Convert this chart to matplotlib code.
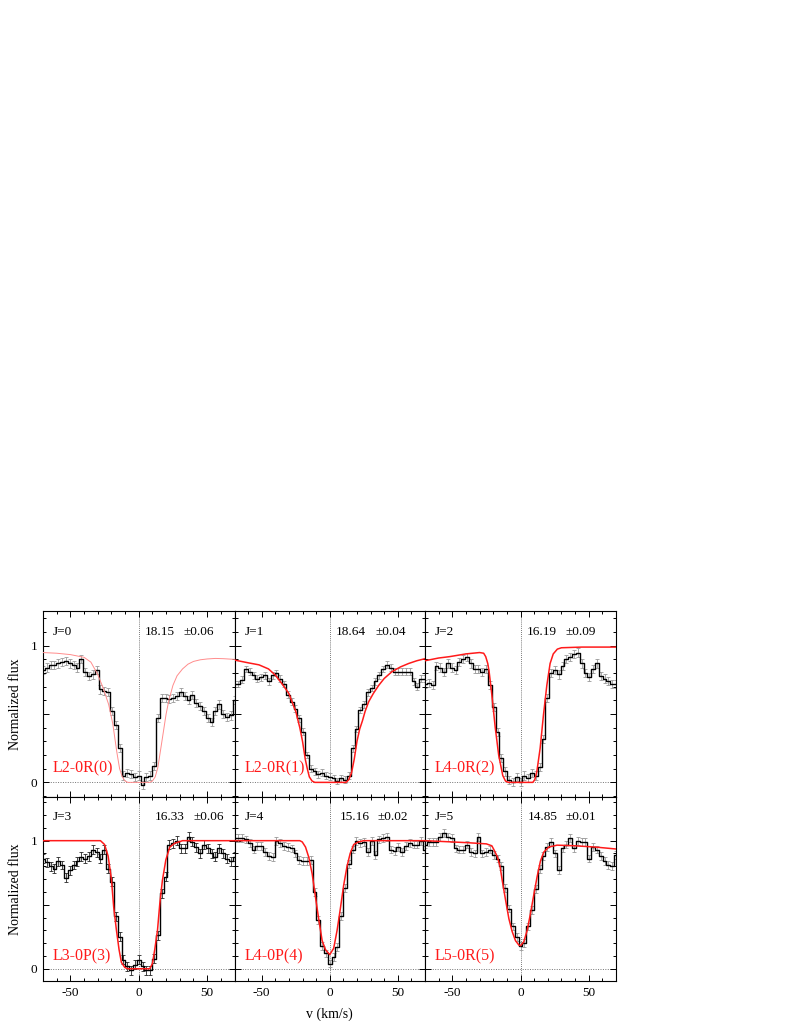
import matplotlib
matplotlib.use("Agg")
import matplotlib.pyplot as plt
from matplotlib.ticker import MultipleLocator, FixedLocator, FixedFormatter

plt.rcParams['font.family'] = ['Liberation Serif', 'DejaVu Serif']
plt.rcParams['axes.unicode_minus'] = False

# ---------------- data ----------------
velocity = [-70.0, -67.2, -64.4, -61.6, -58.8, -56.0, -53.2, -50.4, -47.6, -44.8,
            -42.0, -39.2, -36.4, -33.6, -30.8, -28.0, -25.2, -22.4, -19.6, -16.8,
            -14.0, -11.2, -8.4, -5.6, -2.8, 0.0, 2.8, 5.6, 8.4, 11.2,
            14.0, 16.8, 19.6, 22.4, 25.2, 28.0, 30.8, 33.6, 36.4, 39.2,
            42.0, 44.8, 47.6, 50.4, 53.2, 56.0, 58.8, 61.6, 64.4, 67.2, 70.0]

flux_J0 = [0.82, 0.84, 0.86, 0.86, 0.87, 0.88, 0.89, 0.87, 0.86, 0.84,
           0.90, 0.81, 0.78, 0.79, 0.82, 0.68, 0.67, 0.66, 0.52, 0.42,
           0.25, 0.05, 0.07, 0.06, 0.04, 0.05, -0.02, 0.04, 0.05, 0.12,
           0.47, 0.62, 0.62, 0.61, 0.62, 0.63, 0.66, 0.63, 0.60, 0.64,
           0.58, 0.56, 0.52, 0.47, 0.44, 0.52, 0.57, 0.50, 0.48, 0.49, 0.60]
flux_J1 = [0.72, 0.72, 0.75, 0.83, 0.81, 0.785, 0.76, 0.77, 0.785, 0.74,
           0.785, 0.80, 0.76, 0.72, 0.64, 0.59, 0.54, 0.47, 0.37, 0.20,
           0.10, 0.08, 0.06, 0.07, 0.05, 0.04, 0.03, 0.01, 0.03, 0.02,
           0.05, 0.25, 0.39, 0.53, 0.57, 0.66, 0.69, 0.74, 0.785, 0.83,
           0.86, 0.84, 0.81, 0.81, 0.81, 0.81, 0.81, 0.74, 0.70, 0.76, 0.76]
flux_J2 = [0.72, 0.73, 0.71, 0.85, 0.84, 0.81, 0.87, 0.84, 0.82, 0.88,
           0.90, 0.92, 0.87, 0.83, 0.83, 0.81, 0.83, 0.71, 0.55, 0.37,
           0.18, 0.08, 0.02, 0.00, 0.04, 0.00, 0.05, 0.03, 0.07, 0.05,
           0.11, 0.32, 0.62, 0.80, 0.82, 0.79, 0.85, 0.90, 0.92, 0.94,
           0.95, 0.87, 0.80, 0.77, 0.83, 0.87, 0.78, 0.76, 0.74, 0.72, 0.72]
flux_J3 = [0.86, 0.83, 0.80, 0.78, 0.84, 0.81, 0.71, 0.77, 0.81, 0.84,
           0.875, 0.86, 0.88, 0.93, 0.91, 0.86, 0.93, 0.78, 0.68, 0.41,
           0.25, 0.07, 0.02, -0.01, 0.03, 0.07, 0.02, -0.01, -0.01, 0.08,
           0.26, 0.59, 0.72, 0.97, 0.98, 1.00, 0.94, 0.94, 1.03, 0.99,
           0.95, 0.90, 0.97, 0.94, 0.90, 0.875, 0.94, 0.90, 0.86, 0.84, 0.875]
flux_J4 = [1.02, 1.02, 1.02, 1.01, 0.98, 0.93, 0.96, 0.96, 0.91, 0.88,
           0.87, 1.00, 0.98, 0.96, 0.95, 0.94, 0.90, 0.85, 0.84, 0.84,
           0.85, 0.60, 0.38, 0.18, 0.12, 0.04, 0.09, 0.17, 0.41, 0.63,
           0.82, 0.93, 1.00, 0.98, 0.99, 0.91, 1.00, 0.89, 1.01, 1.02,
           1.03, 0.93, 0.92, 0.95, 0.91, 0.96, 0.98, 0.97, 0.97, 1.00, 0.93]
flux_J5 = [0.97, 0.99, 0.99, 0.99, 1.03, 1.06, 1.03, 1.02, 0.94, 0.93,
           0.93, 0.97, 0.91, 0.90, 1.03, 0.90, 0.91, 0.93, 0.89, 0.86,
           0.80, 0.63, 0.47, 0.33, 0.25, 0.18, 0.20, 0.33, 0.46, 0.62,
           0.78, 0.88, 0.95, 0.99, 0.90, 0.77, 0.94, 0.97, 1.02, 0.94,
           1.00, 0.99, 0.99, 0.86, 0.95, 0.93, 0.88, 0.84, 0.81, 0.80, 0.89]

flux_errors = [0.03, 0.025, 0.03, 0.035, 0.03, 0.03]

model_v_J0 = [-70, -60, -50, -40, -35, -30, -26, -22, -19, -16, -14, -12, -10, -8, 8, 10, 12, 14, 16,
              18, 20, 22, 25, 28, 32, 36, 40, 45, 50, 56, 62, 70]
model_f_J0 = [0.95, 0.945, 0.935, 0.915, 0.88, 0.79, 0.69, 0.57, 0.43, 0.22, 0.10, 0.04, 0.01, 0.0, 0.0,
              0.01, 0.04, 0.11, 0.24, 0.37, 0.50, 0.60, 0.71, 0.78, 0.83, 0.865, 0.885, 0.897, 0.903,
              0.907, 0.905, 0.90]
model_v_J1 = [-70, -60, -52, -45, -40, -35, -30, -27, -25, -22, -20, -18, -16.5, -15, -13, -11, 12, 14,
              16, 18, 20, 22, 24, 26, 28.6, 32, 36, 40, 45.7, 52, 58, 64, 70]
model_f_J1 = [0.895, 0.875, 0.86, 0.83, 0.785, 0.72, 0.65, 0.57, 0.52, 0.40, 0.30, 0.17, 0.10, 0.04,
              0.01, 0.0, 0.0, 0.02, 0.07, 0.17, 0.30, 0.39, 0.45, 0.52, 0.59, 0.65, 0.71, 0.76, 0.81,
              0.845, 0.87, 0.89, 0.905]
model_v_J2 = [-70, -60, -52, -40, -30, -27, -25.5, -24, -23, -21, -18.5, -16, -13, -11, -9, 9, 10.5, 12,
              14.4, 16.8, 19.3, 21.7, 24, 27, 30, 45, 70]
model_f_J2 = [0.89, 0.91, 0.92, 0.94, 0.95, 0.945, 0.92, 0.87, 0.81, 0.64, 0.40, 0.20, 0.05, 0.01, 0.0,
              0.0, 0.02, 0.08, 0.25, 0.49, 0.71, 0.87, 0.94, 0.975, 0.985, 0.99, 0.99]
model_v_J3 = [-70, -28, -25, -22.4, -20, -18.3, -16.3, -14.4, -12.7, -10.2, -8, 8, 10, 11.7, 13.7, 15.4,
              17.3, 19.8, 22.7, 26.3, 32, 70]
model_f_J3 = [1.0, 1.0, 0.97, 0.88, 0.70, 0.48, 0.30, 0.15, 0.05, 0.01, 0.0, 0.0, 0.04, 0.15, 0.30,
              0.51, 0.69, 0.85, 0.95, 0.98, 1.0, 1.0]
model_v_J4 = [-70, -22, -20.2, -17.8, -15.4, -12.9, -10.5, -8, -5.6, -3.2, 0, 2.9, 5.4, 7.8, 10.2, 12.7,
              15, 17.6, 21, 25, 70]
model_f_J4 = [1.0, 1.0, 0.99, 0.95, 0.87, 0.74, 0.56, 0.38, 0.22, 0.15, 0.11, 0.16, 0.30, 0.47, 0.65,
              0.80, 0.90, 0.97, 0.99, 1.0, 1.0]
model_v_J5 = [-70, -40, -25, -21, -19.5, -17, -15, -13.4, -11, -8.5, -6.1, -3.7, -1.2, 0, 2.4, 4.9, 7.3,
              9.8, 12.2, 14.6, 17, 20.7, 26.8, 40, 55, 70]
model_f_J5 = [1.0, 0.985, 0.975, 0.96, 0.93, 0.875, 0.80, 0.69, 0.54, 0.39, 0.29, 0.22, 0.185, 0.18,
              0.21, 0.30, 0.43, 0.58, 0.72, 0.84, 0.91, 0.95, 0.965, 0.96, 0.95, 0.935]

j_labels = ["J=0", "J=1", "J=2", "J=3", "J=4", "J=5"]
logN_values = ["18.15", "18.64", "16.19", "16.33", "15.16", "14.85"]
logN_errors = ["\u00b10.06", "\u00b10.04", "\u00b10.09", "\u00b10.06", "\u00b10.02", "\u00b10.01"]
transitions = ["L2-0R(0)", "L2-0R(1)", "L4-0R(2)", "L3-0P(3)", "L4-0P(4)", "L5-0R(5)"]

fluxes = [flux_J0, flux_J1, flux_J2, flux_J3, flux_J4, flux_J5]
models = [(model_v_J0, model_f_J0), (model_v_J1, model_f_J1), (model_v_J2, model_f_J2),
          (model_v_J3, model_f_J3), (model_v_J4, model_f_J4), (model_v_J5, model_f_J5)]

# ---------------- layout ----------------
W, H = 789, 1021
fig = plt.figure(figsize=(W / 100, H / 100), dpi=100)

col_edges = [43, 234.5, 425, 616]
row_edges = [(611, 797), (797, 981.3)]
ylims = [(-0.107, 1.254), (-0.098, 1.341)]
num_x = [0.534, 0.534, 0.534, 0.586, 0.551, 0.537]
pm_x = [0.733, 0.738, 0.733, 0.787, 0.752, 0.738]

for i in range(6):
    r, c = divmod(i, 3)
    x0, x1 = col_edges[c], col_edges[c + 1]
    top, bot = row_edges[r]
    ax = fig.add_axes([x0 / W, 1 - bot / H, (x1 - x0) / W, (bot - top) / H])
    ax.set_xlim(-70, 70)
    ax.set_ylim(*ylims[r])

    ax.axhline(0, color='0.45', linestyle=(0, (1, 1.5)), lw=0.7, zorder=1)
    ax.axvline(0, color='0.3', linestyle=(0, (1, 1.5)), lw=0.6, zorder=1)

    err_color = '0.15' if i == 3 else '0.6'
    ax.errorbar(velocity, fluxes[i], yerr=flux_errors[i], fmt='none', ecolor=err_color,
                elinewidth=0.6, capsize=1.3, capthick=0.6, zorder=2)
    ax.step(velocity, fluxes[i], where='mid', color='black', lw=1.0, zorder=3)

    mv, mf = models[i]
    if i == 0:
        ax.plot(mv, mf, color='#ff8c8c', lw=0.7, zorder=4)
    else:
        ax.plot(mv, mf, color='#ff1a1a', lw=1.1, zorder=4)

    ty = 0.889 if r == 0 else 0.893
    ax.text(0.052, ty, j_labels[i], transform=ax.transAxes, fontsize=9.5, va='center', ha='left')
    ax.text(num_x[i], ty, logN_values[i], transform=ax.transAxes, fontsize=9.5, va='center', ha='left')
    ax.text(pm_x[i], ty, logN_errors[i], transform=ax.transAxes, fontsize=9.5, va='center', ha='left')
    ly = 0.154 if r == 0 else 0.133
    ax.text(0.052, ly, transitions[i], transform=ax.transAxes, fontsize=11.5, color='#ff1a1a',
            va='center', ha='left')

    ax.xaxis.set_major_locator(FixedLocator([-50, 0, 50]))
    ax.xaxis.set_minor_locator(MultipleLocator(10))
    ax.yaxis.set_major_locator(FixedLocator([0, 0.5, 1]))
    ax.yaxis.set_minor_locator(MultipleLocator(0.1))
    ax.tick_params(which='both', direction='in', top=True, right=True, width=0.7,
                   labelsize=9.5, pad=4)
    ax.tick_params(which='major', length=4)
    ax.tick_params(which='minor', length=2)
    if c == 0:
        ax.yaxis.set_major_formatter(FixedFormatter(['0', '', '1']))
        ax.set_ylabel('Normalized flux', fontsize=10, labelpad=6)
    else:
        ax.set_yticklabels([])
    if r == 1:
        ax.xaxis.set_major_formatter(FixedFormatter(['-50', '0', '50']))
        if c == 1:
            ax.set_xlabel('v (km/s)', fontsize=10, labelpad=6)
    else:
        ax.set_xticklabels([])
    for s in ax.spines.values():
        s.set_linewidth(0.8)

fig.savefig('out.png', dpi=100)
